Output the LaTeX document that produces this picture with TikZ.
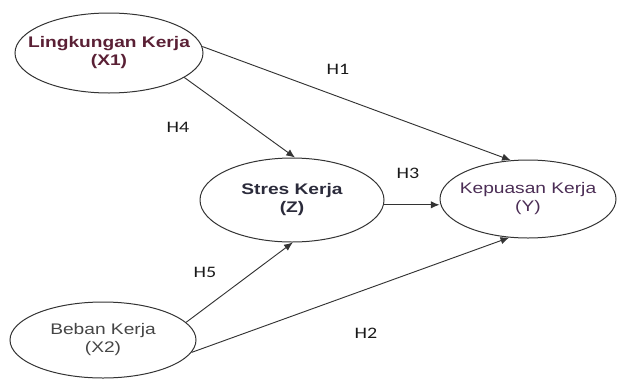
\documentclass[tikz,border=0pt]{standalone}
\usepackage{fontspec}
\setmainfont{Liberation Sans}[FakeStretch=1.25]
\newfontfamily\labfont{Carlito}[FakeStretch=1.25]
\usetikzlibrary{arrows.meta,shapes.geometric}
\definecolor{txone}{HTML}{5A2035}
\definecolor{txz}{HTML}{2B2B3B}
\definecolor{txy}{HTML}{4B2D55}
\definecolor{txtwo}{HTML}{454545}
\definecolor{edge}{HTML}{333333}
\begin{document}
\begin{tikzpicture}[x=0.75pt,y=-0.75pt,
  latent/.style={draw=edge,line width=0.75pt,ellipse,inner sep=0pt},
  ltext/.style={align=center,inner sep=0pt,font=\fontsize{11.5}{13.5}\selectfont},
  conn/.style={draw=edge,line width=0.7pt,-{Latex[length=6.5pt,width=5.5pt]}},
  hlab/.style={font=\labfont\fontsize{12}{14}\selectfont,text=black!90}]
\useasboundingbox (0,0) rectangle (617,379);
\node[latent,minimum width=141pt,minimum height=60pt,
  label={[ltext,text=txone]center:\bfseries Lingkungan Kerja\\\bfseries (X1)}] (x1) at (109,53) {};
\node[latent,minimum width=138pt,minimum height=63pt,
  label={[ltext,text=txz]center:\bfseries Stres Kerja\\\bfseries (Z)}] (z) at (292,200) {};
\node[latent,minimum width=132pt,minimum height=58.5pt,
  label={[ltext,text=txy]center:Kepuasan Kerja\\(Y)}] (y) at (528,199) {};
\node[latent,minimum width=139.5pt,minimum height=57pt,
  label={[ltext,text=txtwo]center:Beban Kerja\\(X2)}] (x2) at (103,340) {};
\draw[conn] (x1.4) -- (y.114);
\draw[conn] (x1.-18) -- (z.86);
\draw[conn] (z.-3) -- (z.-3 -| y.west);
\draw[conn] (x2.12) -- (z.-89);
\draw[conn] (x2.-8) -- (y.-116);
\node[hlab] (h1) at (338,69) {H1};
\node[hlab] (h4) at (178,127) {H4};
\node[hlab] (h3) at (408,173) {H3};
\node[hlab] (h5) at (205,272) {H5};
\node[hlab] (h2) at (366,333) {H2};
\end{tikzpicture}
\end{document}
